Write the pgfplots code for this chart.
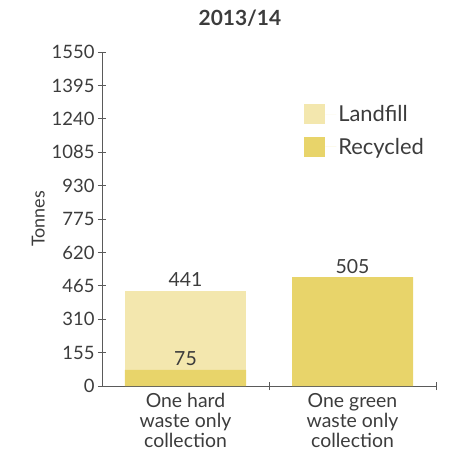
\documentclass[border=0pt]{standalone}
\usepackage{fontspec}
\setmainfont{Lato}
\usepackage{pgfplots}
\pgfplotsset{compat=1.18}
\definecolor{landfill}{RGB}{243,231,174}
\definecolor{recycled}{RGB}{232,212,106}
\definecolor{txt}{RGB}{60,60,60}
\definecolor{axl}{RGB}{90,90,90}
\begin{document}
\begin{tikzpicture}
\path[use as bounding box] (-102bp,-70bp) rectangle (356bp,386bp);
\begin{axis}[
  at={(0,0)}, anchor=south west,
  scale only axis, width=334bp, height=334bp,
  ybar stacked, bar width=121bp,
  xmin=-0.5, xmax=1.5, ymin=0, ymax=1550,
  ytick={0,155,310,465,620,775,930,1085,1240,1395,1550},
  xtick={0,1},
  xticklabels={{One hard\\waste only\\collection},{One green\\waste only\\collection}},
  minor xtick={0.5,1.5},
  major x tick style={draw=none},
  tick align=inside,
  major tick length=8bp, minor tick length=8bp,
  ytick pos=left, xtick pos=bottom,
  axis x line=bottom, axis y line=left,
  axis line style={-, draw=axl, line width=0.8pt},
  every tick/.style={draw=axl, line width=0.8pt},
  /pgf/number format/assume math mode=true,
  /pgf/number format/1000 sep={},
  yticklabel style={font=\fontsize{18.5}{20}\selectfont, text=txt},
  xticklabel style={font=\fontsize{19.5}{20}\selectfont, text=txt, align=center},
  ylabel={Tonnes},
  ylabel style={font=\fontsize{18}{20}\selectfont, text=txt},
  title={\textbf{2013/14}},
  title style={at={(0.413,1)}, anchor=base, yshift=21bp, font=\fontsize{21}{24}\selectfont, text=txt},
  reverse legend,
  legend style={at={(0.605,0.847)}, anchor=north west, draw=none, fill=none,
    font=\fontsize{22}{24}\selectfont, text=txt, inner sep=0pt, row sep=11bp},
  legend cell align=left,
  legend image code/.code={\fill[#1] (0bp,-10bp) rectangle (21bp,10bp); \path (21bp,0bp) -- (32bp,0bp);},
]
\addplot[fill=recycled, draw=none] coordinates {(0,75) (1,505)};
\addplot[fill=landfill, draw=none] coordinates {(0,366) (1,0)};
\legend{Recycled, Landfill}
\coordinate (a) at (axis cs:0,441);
\coordinate (b) at (axis cs:0,75);
\coordinate (c) at (axis cs:1,505);
\end{axis}
\tikzset{lab/.style={anchor=base, yshift=4bp, font=\fontsize{19.5}{22}\selectfont, text=txt, inner sep=0pt}}
\node[lab] at (a) {441};
\node[lab] at (b) {75};
\node[lab] at (c) {505};
\end{tikzpicture}
\end{document}
